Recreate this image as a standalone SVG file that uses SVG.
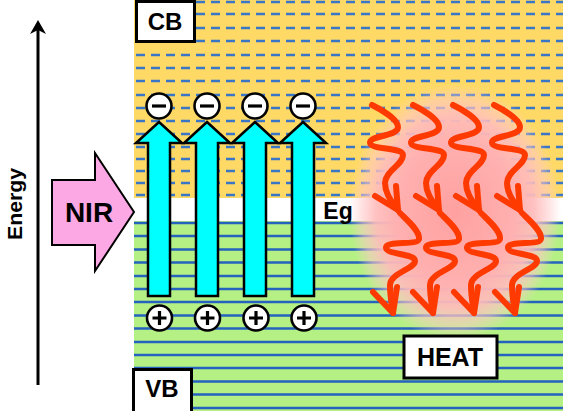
<svg xmlns="http://www.w3.org/2000/svg" xmlns:xlink="http://www.w3.org/1999/xlink" width="563" height="411" viewBox="0 0 563 411">
<style>
.lbl{font-family:"Liberation Sans",Arial,sans-serif;font-weight:bold;fill:#000;text-anchor:middle}
.box{fill:#fff;stroke:#000;stroke-width:3}
.dash{stroke:#3A76C6;stroke-width:2.6;stroke-dasharray:9 6}
.solid{stroke:#2563BE;stroke-width:2.4}
.cyan{fill:#00FFFF;stroke:#000;stroke-width:2.5;stroke-linejoin:miter}
.circ{fill:#fff;stroke:#000;stroke-width:2.6}
.sign{stroke:#000;stroke-width:3.2}
.wave{fill:none;stroke:#FF3A00;stroke-width:6;stroke-linecap:round;stroke-linejoin:round}
</style>
<defs>
<radialGradient id="glow" cx="0.5" cy="0.5" r="0.5">
<stop offset="0" stop-color="#FFA0A0" stop-opacity="1"/>
<stop offset="0.55" stop-color="#FFB0B0" stop-opacity="1"/>
<stop offset="0.75" stop-color="#FFBCBC" stop-opacity="0.92"/>
<stop offset="0.88" stop-color="#FFC8C8" stop-opacity="0.55"/>
<stop offset="1" stop-color="#FFD0D0" stop-opacity="0"/>
</radialGradient>
<g id="wtop">
<path class="wave" d="M0,0 C8,4 26,14 26,22 C26,32 -3,30 -2,38 C-1,45 31,42 31,50 C31,60 13,66 13,78 C13,88 20,98 26,105"/>
<path class="wave" d="M3,91 L26,105 L24,81"/>
</g>
<g id="wbot">
<path class="wave" d="M0,0 C8,8 20,18 19,26 C18,33 -15,27 -14,35 C-13,42 15,40 15,48 C15,56 -10,60 -10,72 C-10,84 -8,92 -7,100"/>
<path class="wave" d="M-27,79 L-7,100 L-3,74"/>
</g>
</defs>

<g id="bands">
<rect x="134" y="0" width="429" height="198" fill="#FFD966"/>
<rect x="134" y="198" width="429" height="23" fill="#FFFFFF"/>
<rect x="134" y="221" width="429" height="190" fill="#B4F084"/>
<g class="dash">
<line x1="136" y1="2" x2="563" y2="2"/>
<line x1="136" y1="14" x2="563" y2="14"/>
<line x1="136" y1="28" x2="563" y2="28"/>
<line x1="136" y1="41" x2="563" y2="41"/>
<line x1="136" y1="55" x2="563" y2="55"/>
<line x1="136" y1="68" x2="563" y2="68"/>
<line x1="136" y1="81" x2="563" y2="81"/>
<line x1="136" y1="95" x2="563" y2="95"/>
<line x1="136" y1="108" x2="563" y2="108"/>
<line x1="136" y1="121" x2="563" y2="121"/>
<line x1="136" y1="134" x2="563" y2="134"/>
<line x1="136" y1="147" x2="563" y2="147"/>
<line x1="136" y1="159" x2="563" y2="159"/>
<line x1="136" y1="171" x2="563" y2="171"/>
<line x1="136" y1="183" x2="563" y2="183"/>
<line x1="136" y1="195" x2="563" y2="195"/>
</g>
<g class="solid">
<line x1="134" y1="223" x2="563" y2="223"/>
<line x1="134" y1="236" x2="563" y2="236"/>
<line x1="134" y1="249.5" x2="563" y2="249.5"/>
<line x1="134" y1="262.5" x2="563" y2="262.5"/>
<line x1="134" y1="276" x2="563" y2="276"/>
<line x1="134" y1="289" x2="563" y2="289"/>
<line x1="134" y1="302" x2="563" y2="302"/>
<line x1="134" y1="315.5" x2="563" y2="315.5"/>
<line x1="134" y1="328.5" x2="563" y2="328.5"/>
<line x1="134" y1="342" x2="563" y2="342"/>
<line x1="134" y1="355" x2="563" y2="355"/>
<line x1="134" y1="368" x2="563" y2="368"/>
<line x1="134" y1="381.5" x2="563" y2="381.5"/>
<line x1="134" y1="394.5" x2="563" y2="394.5"/>
<line x1="134" y1="408" x2="563" y2="408"/>
</g>
</g>

<ellipse id="heat-glow" cx="455" cy="212" rx="106" ry="128" fill="url(#glow)"/>

<g id="energy-axis">
<line x1="38" y1="28" x2="38" y2="385" stroke="#000" stroke-width="3"/>
<path d="M38,20 L46,34 L38,30 L30,34 Z" fill="#000"/>
<text class="lbl" x="0" y="0" font-size="20" textLength="72" lengthAdjust="spacingAndGlyphs" transform="translate(22,204) rotate(-90)">Energy</text>
</g>

<g id="nir">
<path d="M52,180 L95,180 L95,153 L134,212 L95,271 L95,245 L52,245 Z" fill="#FBA8E4" stroke="#000" stroke-width="2"/>
<text class="lbl" x="89" y="222" font-size="28">NIR</text>
</g>

<g id="cb">
<rect class="box" x="136.5" y="1.5" width="58" height="40"/>
<text class="lbl" x="165" y="30" font-size="24">CB</text>
</g>

<g id="vb">
<rect class="box" x="133.5" y="369.5" width="58" height="50"/>
<text class="lbl" x="162" y="397" font-size="24">VB</text>
</g>

<g id="connectors">
<g id="excitations">
<polygon class="cyan" points="159,122 182,143 170,143 170,296 148,296 148,143 136,143"/>
<polygon class="cyan" points="207,122 230,143 218,143 218,296 196,296 196,143 184,143"/>
<polygon class="cyan" points="255,122 278,143 266,143 266,296 244,296 244,143 232,143"/>
<polygon class="cyan" points="303,122 326,143 314,143 314,296 292,296 292,143 280,143"/>
</g>
<g id="heat-waves">
<use xlink:href="#wtop" x="372" y="105"/>
<use xlink:href="#wtop" x="413" y="105"/>
<use xlink:href="#wtop" x="453" y="105"/>
<use xlink:href="#wtop" x="494" y="105"/>
<use xlink:href="#wbot" x="400" y="213"/>
<use xlink:href="#wbot" x="440" y="213"/>
<use xlink:href="#wbot" x="481" y="213"/>
<use xlink:href="#wbot" x="522" y="213"/>
</g>
</g>

<g id="electrons">
<g><circle class="circ" cx="159" cy="106" r="12.5"/><line class="sign" x1="152" y1="106" x2="166" y2="106"/></g>
<g><circle class="circ" cx="207" cy="106" r="12.5"/><line class="sign" x1="200" y1="106" x2="214" y2="106"/></g>
<g><circle class="circ" cx="255" cy="106" r="12.5"/><line class="sign" x1="248" y1="106" x2="262" y2="106"/></g>
<g><circle class="circ" cx="303" cy="106" r="12.5"/><line class="sign" x1="296" y1="106" x2="310" y2="106"/></g>
</g>

<g id="holes">
<g><circle class="circ" cx="159.5" cy="318" r="12.5"/><path class="sign" d="M152.5,318 H166.5 M159.5,311 V325"/></g>
<g><circle class="circ" cx="207.5" cy="318" r="12.5"/><path class="sign" d="M200.5,318 H214.5 M207.5,311 V325"/></g>
<g><circle class="circ" cx="256" cy="318" r="12.5"/><path class="sign" d="M249,318 H263 M256,311 V325"/></g>
<g><circle class="circ" cx="304" cy="318" r="12.5"/><path class="sign" d="M297,318 H311 M304,311 V325"/></g>
</g>

<g id="eg">
<text class="lbl" x="338" y="219" font-size="23">Eg</text>
</g>

<g id="heat">
<rect class="box" x="404" y="336" width="93" height="42"/>
<text class="lbl" x="450" y="366" font-size="25">HEAT</text>
</g>
</svg>
